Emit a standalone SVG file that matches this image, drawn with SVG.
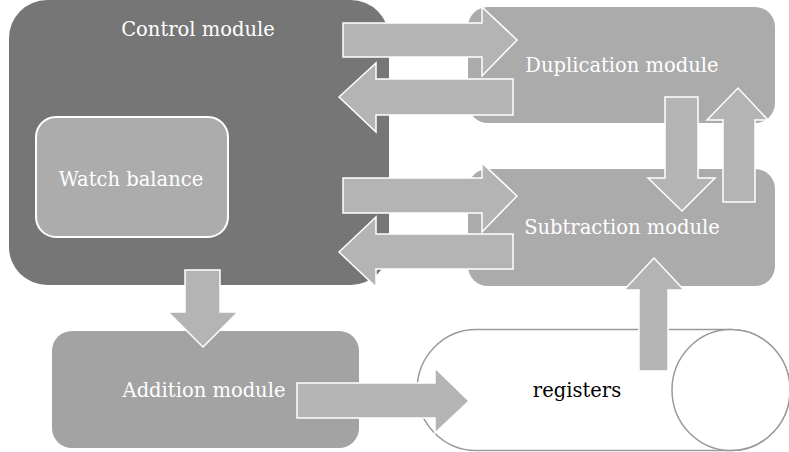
<svg xmlns="http://www.w3.org/2000/svg" width="789" height="452" viewBox="0 0 789 452">
<style>
.t{font-family:"DejaVu Serif","Liberation Serif",serif;font-size:19.5px;fill:#ffffff;text-anchor:middle}
.arrow{fill:#b4b4b4;stroke:#ffffff;stroke-width:1.5;stroke-linejoin:miter}
.mod{fill:#ababab}
</style>
<rect width="789" height="452" fill="#ffffff"/>
<g id="control">
<rect x="9" y="0" width="380" height="285" rx="38" fill="#767676"/>
<text class="t" x="198" y="36">Control module</text>
</g>
<g id="watch">
<rect x="36" y="117" width="192" height="120" rx="20" fill="#acacac" stroke="#ffffff" stroke-width="2"/>
<text class="t" x="131" y="186">Watch balance</text>
</g>
<g id="duplication">
<rect class="mod" x="468" y="7" width="307" height="116" rx="20"/>
<text class="t" x="622" y="72">Duplication module</text>
</g>
<g id="subtraction">
<rect class="mod" x="468" y="169" width="307" height="117" rx="20"/>
<text class="t" x="622" y="234">Subtraction module</text>
</g>
<g id="addition">
<rect x="52" y="331" width="307" height="117" rx="20" fill="#a3a3a3"/>
<text class="t" x="204" y="397">Addition module</text>
</g>
<g id="registers">
<path d="M476,329.5 H731 A59,60.5 0 0 1 731,450.5 H476 A59,60.5 0 0 1 476,329.5 Z" fill="#ffffff" stroke="#9a9a9a" stroke-width="1.5"/>
<ellipse cx="731" cy="390" rx="59" ry="60.5" fill="#ffffff" stroke="#9a9a9a" stroke-width="1.5"/>
<text x="577" y="397" font-family="DejaVu Serif, Liberation Serif, serif" font-size="19.5" fill="#000000" text-anchor="middle">registers</text>
</g>
<g id="connectors">
<path class="arrow" d="M343,23 H482 V7 L517,40 L482,76 V57 H343 Z"/>
<path class="arrow" d="M339,97 L376,63 V79 H513 V115 H376 V132 Z"/>
<path class="arrow" d="M343,178 H482 V163 L517,196 L482,232 V213 H343 Z"/>
<path class="arrow" d="M339,252 L376,217 V234 H513 V269 H376 V287 Z"/>
<path class="arrow" d="M665,97 H698 V178 H715 L682,211 L648,178 H665 Z"/>
<path class="arrow" d="M723,202 V120 H707 L738,88 L768,120 H755 V202 Z"/>
<path class="arrow" d="M185,270 H220 V312 H238 L203,347 L168,312 H185 Z"/>
<path class="arrow" d="M297,383 H435 V368 L469,401 L435,433 V418 H297 Z"/>
<path class="arrow" d="M639,371 V290 H624 L654,258 L684,290 H668 V371 Z"/>
</g>
</svg>
